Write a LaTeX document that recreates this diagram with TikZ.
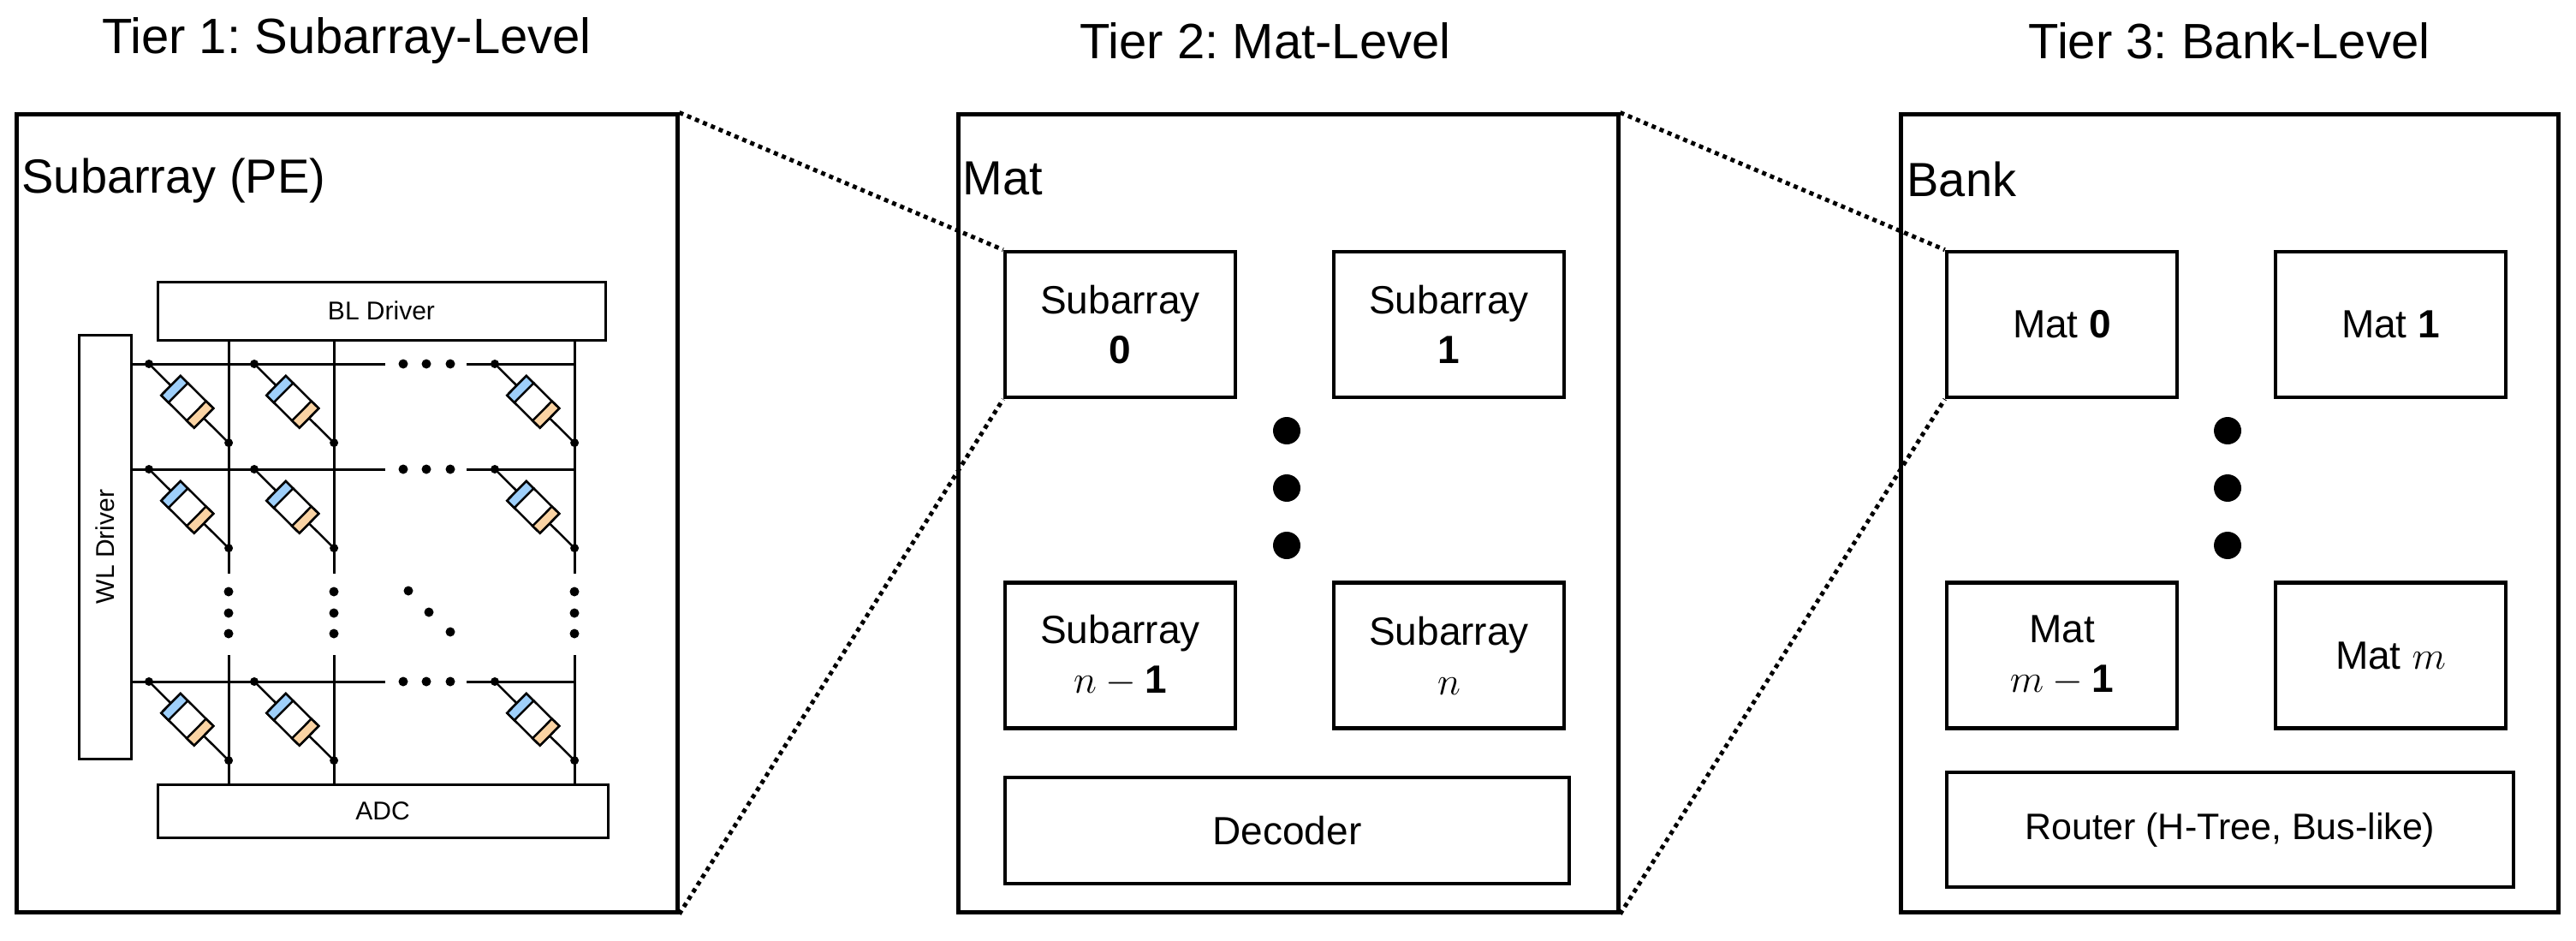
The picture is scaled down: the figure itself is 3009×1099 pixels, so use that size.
\RequirePackage{fix-cm}
\documentclass[tikz,border=0pt]{standalone}
\usepackage{fontspec}
\setmainfont{Liberation Sans}
\frenchspacing
\definecolor{cellblue}{HTML}{9ECFFA}
\definecolor{cellorange}{HTML}{FAD3A3}
\begin{document}
\begin{tikzpicture}[x=1pt,y=-1pt,
  big/.style={draw,line width=5pt,inner sep=0pt},
  box/.style={draw,line width=4.5pt,inner sep=0pt,align=center,font=\fontsize{46}{58}\selectfont},
  small/.style={draw,line width=3pt,inner sep=0pt,font=\fontsize{30}{36}\selectfont},
  title/.style={font=\fontsize{58}{70}\selectfont},
  lbl/.style={font=\fontsize{56}{68}\selectfont,anchor=west},
  wire/.style={line width=3pt},
  zoomline/.style={line width=5pt,dash pattern=on 5pt off 5pt},
  bigdot/.style={circle,fill,inner sep=0pt,minimum size=32pt}]
\useasboundingbox (0,0) rectangle (3009,1099);
% titles
\node[title] (t1) at (405,48) {Tier 1: Subarray-Level};
\node[title] (t2) at (1478,48) {Tier 2: Mat-Level};
\node[title] (t3) at (2604,48) {Tier 3: Bank-Level};
% big boxes
\node[big,minimum width=772pt,minimum height=931pt] (B1) at (405,599.5) {};
\node[big,minimum width=771pt,minimum height=931pt] (B2) at (1504.5,599.5) {};
\node[big,minimum width=768pt,minimum height=931pt] (B3) at (2604,599.5) {};
\node[lbl] (l1) at (22,211) {Subarray (PE)};
\node[lbl] (l2) at (1121,209) {Mat};
\node[lbl] (l3) at (2224,209) {Bank};
% tier 2
\node[box,minimum width=269pt,minimum height=170pt] (s0) at (1308.5,379) {Subarray\\$\mathbf{0}$};
\node[box,minimum width=269pt,minimum height=170pt] (s1) at (1692.5,379) {Subarray\\$\mathbf{1}$};
\node[box,minimum width=269pt,minimum height=170pt] (sn1) at (1308.5,765.5) {Subarray\\$n-\mathbf{1}$};
\node[box,minimum width=269pt,minimum height=170pt] (sn) at (1692.5,765.5) {Subarray\\$n$};
\node[box,minimum width=659pt,minimum height=124pt] (dec) at (1503.5,970) {Decoder};
\node[bigdot] (d1) at (1503,503) {};
\node[bigdot] (d2) at (1503,570) {};
\node[bigdot] (d3) at (1503,637) {};
% tier 3
\node[box,minimum width=269pt,minimum height=170pt] (m0) at (2408.5,379) {Mat $\mathbf{0}$};
\node[box,minimum width=269pt,minimum height=170pt] (m1) at (2792.5,379) {Mat $\mathbf{1}$};
\node[box,minimum width=269pt,minimum height=170pt] (mm1) at (2408.5,765.5) {Mat\\$m-\mathbf{1}$};
\node[box,minimum width=269pt,minimum height=170pt] (mm) at (2792.5,765.5) {Mat $m$};
\node[box,minimum width=662pt,minimum height=134pt,font=\fontsize{43}{52}\selectfont] (rt) at (2605,969) {Router (H-Tree, Bus-like)};
\node[bigdot] (e1) at (2602,503) {};
\node[bigdot] (e2) at (2602,570) {};
\node[bigdot] (e3) at (2602,637) {};
% zoom lines
\draw[zoomline] (B1.north east) -- (s0.north west);
\draw[zoomline] (B1.south east) -- (s0.south west);
\draw[zoomline] (B2.north east) -- (m0.north west);
\draw[zoomline] (B2.south east) -- (m0.south west);
% crossbar
\node[small,minimum width=523pt,minimum height=68pt] (bl) at (445.5,363) {BL Driver};
\node[small,minimum width=526pt,minimum height=62pt] (adc) at (447,947) {ADC};
\node[small,minimum width=61pt,minimum height=495pt] (wl) at (122.5,638.5) {};
\node[rotate=90,font=\fontsize{30}{36}\selectfont] (wlt) at (122.5,638.5) {WL Driver};
\foreach \c in {267,390,671}{
  \draw[wire] (\c,397) -- (\c,670);
  \draw[wire] (\c,765) -- (\c,916);
  \foreach \yy in {691,716,740} \fill (\c,\yy) circle (5.5);
}
\foreach \r in {425,548,796}{
  \draw[wire] (153,\r) -- (450,\r);
  \draw[wire] (545,\r) -- (671,\r);
  \foreach \xx in {471,498,526} \fill (\xx,\r) circle (5.5);
  \foreach \c in {267,390,671}{
    \begin{scope}[shift={(\c-93,\r)},rotate=-44.7]
      \draw[line width=2.5pt] (0,0) -- (131,0);
      \draw[line width=2.5pt,fill=white] (36,-16) rectangle (90,16);
      \draw[line width=2.5pt,fill=cellblue] (36,-16) rectangle (48,16);
      \draw[line width=2.5pt,fill=cellorange] (78,-16) rectangle (90,16);
      \fill (0,0) circle (5); \fill (131,0) circle (5);
    \end{scope}
  }
}
\fill (477,690) circle (5.5);
\fill (501,715) circle (5.5);
\fill (526,738) circle (5.5);
\end{tikzpicture}
\end{document}
